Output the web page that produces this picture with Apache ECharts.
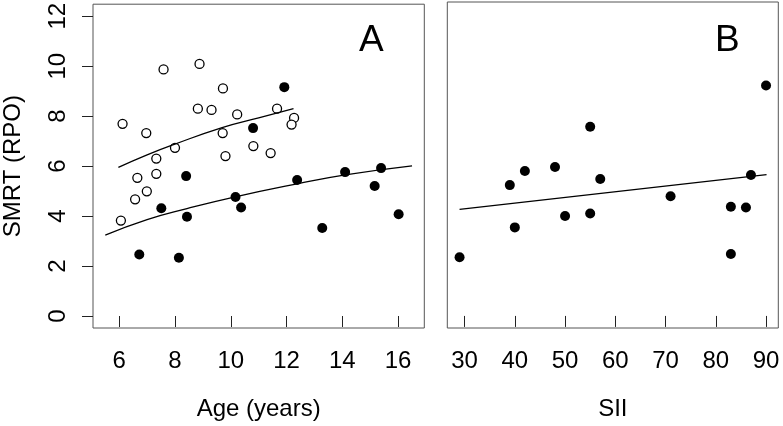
<!DOCTYPE html>
<html>
<head>
<meta charset="utf-8">
<script src="https://cdn.jsdelivr.net/npm/echarts@6/dist/echarts.min.js"></script>
<style>
html,body{margin:0;padding:0;background:#fff;}
#chart{width:783px;height:426px;}
</style>
</head>
<body>
<div id="chart"></div>
<script>
// Panel A, open circles (controls): age, SMRT
const ctrlAge  = [6.12, 7.59, 8.88, 9.72, 8.82, 9.31, 10.23, 11.66, 12.27, 12.18, 6.97, 9.71, 8.00, 10.81, 7.33, 9.81, 11.43, 6.65, 7.33, 6.99, 6.57, 6.06];
const ctrlSMRT = [7.69, 9.87, 10.09, 9.11, 8.30, 8.25, 8.07, 8.30, 7.93, 7.66, 7.32, 7.32, 6.73, 6.80, 6.30, 6.40, 6.52, 5.53, 5.69, 4.99, 4.67, 3.82];

// Patients (filled): age, SII, SMRT
const patAge  = [11.92, 10.80, 8.40, 12.38, 14.10, 15.39, 15.16, 16.02, 10.17, 10.37, 7.51, 8.43, 13.28, 6.72, 8.14];
const patSII  = [90, 55, 87, 57, 42, 48, 39, 55, 71, 83, 86, 50, 40, 83, 29];
const patSMRT = [9.16, 7.52, 5.60, 5.44, 5.76, 5.92, 5.20, 4.07, 4.76, 4.34, 4.31, 3.97, 3.52, 2.46, 2.33];

// Fitted curves
const ctrlFitAge  = [5.97, 7.0, 7.95, 9.69, 11.0, 12.25];
const ctrlFitSMRT = [5.95, 6.45, 6.86, 7.54, 7.93, 8.30];
const patFitAge   = [5.5, 7.0, 8.43, 10.16, 12.38, 14.11, 16.5];
const patFitSMRT  = [3.24, 3.86, 4.30, 4.77, 5.29, 5.65, 6.01];
const siiFitX     = [29, 90.1];
const siiFitSMRT  = [4.24, 5.62];

// Tick labels
const ageTicks  = [6, 8, 10, 12, 14, 16];
const siiTicks  = [30, 40, 50, 60, 70, 80, 90];
const smrtTicks = [0, 2, 4, 6, 8, 10, 12];

const zip = (a, b) => a.map((v, i) => [v, b[i]]);
const FONT = 'Liberation Sans';
const txt = {color: '#000', fontFamily: FONT, fontSize: 24};

const chart = echarts.init(document.getElementById('chart'), null, {renderer: 'canvas'});

function xAx(idx, min, max, ticks, name) {
  return {
    gridIndex: idx, type: 'value', min: min, max: max,
    axisLine: {show: false}, splitLine: {show: false},
    axisTick: {show: true, length: 11, lineStyle: {color: '#222', width: 1}, customValues: ticks},
    axisLabel: Object.assign({customValues: ticks, margin: 21}, txt),
    name: name, nameLocation: 'middle', nameGap: 69, nameTextStyle: txt
  };
}
function yAx(idx, showLabels) {
  return {
    gridIndex: idx, type: 'value', min: -0.48, max: 12.48,
    axisLine: {show: false}, splitLine: {show: false},
    axisTick: {show: showLabels, length: 11, lineStyle: {color: '#222', width: 1}, customValues: smrtTicks},
    axisLabel: Object.assign({show: showLabels, customValues: smrtTicks, margin: 23, rotate: 90}, txt),
    name: showLabels ? 'SMRT (RPO)' : '', nameLocation: 'middle', nameGap: 68, nameRotate: 90, nameTextStyle: txt
  };
}

const option = {
  backgroundColor: '#fff',
  animation: false,
  grid: [
    {left: 92.7, top: 2, width: 331.6, height: 330.3, show: true, borderColor: '#555', borderWidth: 1, backgroundColor: 'transparent'},
    {left: 447.3, top: 2, width: 331, height: 330.3, show: true, borderColor: '#555', borderWidth: 1, backgroundColor: 'transparent'}
  ],
  xAxis: [
    xAx(0, 5.06, 16.94, ageTicks, 'Age (years)'),
    xAx(1, 26.56, 92.44, siiTicks, 'SII')
  ],
  yAxis: [yAx(0, true), yAx(1, false)],
  graphic: [
    {type: 'text', left: 359, top: 22, style: {text: 'A', fontSize: 37, fontFamily: FONT, fill: '#000'}},
    {type: 'text', left: 715, top: 22, style: {text: 'B', fontSize: 37, fontFamily: FONT, fill: '#000'}}
  ],
  series: [
    {type: 'line', xAxisIndex: 0, yAxisIndex: 0, data: zip(ctrlFitAge, ctrlFitSMRT), smooth: true, showSymbol: false,
     lineStyle: {color: '#000', width: 1.3}},
    {type: 'line', xAxisIndex: 0, yAxisIndex: 0, data: zip(patFitAge, patFitSMRT), smooth: true, showSymbol: false,
     lineStyle: {color: '#000', width: 1.3}},
    {type: 'scatter', xAxisIndex: 0, yAxisIndex: 0, data: zip(ctrlAge, ctrlSMRT), symbol: 'circle', symbolSize: 9,
     itemStyle: {color: '#fff', borderColor: '#000', borderWidth: 1.3, opacity: 1}},
    {type: 'scatter', xAxisIndex: 0, yAxisIndex: 0, data: zip(patAge, patSMRT), symbol: 'circle', symbolSize: 10,
     itemStyle: {color: '#000', opacity: 1}},
    {type: 'line', xAxisIndex: 1, yAxisIndex: 1, data: zip(siiFitX, siiFitSMRT), showSymbol: false,
     lineStyle: {color: '#000', width: 1.3}},
    {type: 'scatter', xAxisIndex: 1, yAxisIndex: 1, data: zip(patSII, patSMRT), symbol: 'circle', symbolSize: 10,
     itemStyle: {color: '#000', opacity: 1}}
  ]
};
chart.setOption(option);
</script>
</body>
</html>
